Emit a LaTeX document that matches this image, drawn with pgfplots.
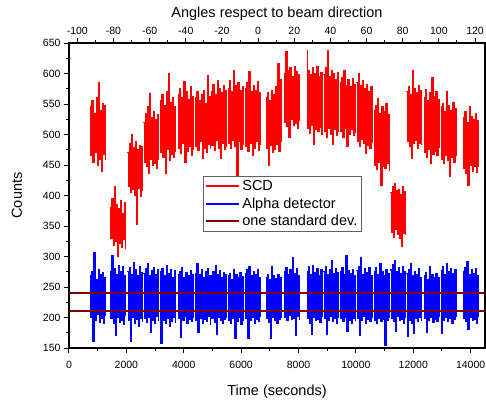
\documentclass[border=0pt]{standalone}
\usepackage{fontspec}
\setmainfont{Liberation Sans}
\usepackage{pgfplots}
\usepackage{pgfplotstable}
\pgfplotsset{compat=1.18}

\definecolor{stdred}{RGB}{128,0,0}
\definecolor{legframe}{RGB}{95,95,95}

% t = time (s), scd = SCD counts, alpha = alpha detector counts
% nan rows separate the measurement runs
\pgfplotstableread{
t scd alpha
730 545 268
766 465 200
802 555 275
838 455 161
874 535 306
910 470 196
946 560 262
982 450 205
1018 585 278
1054 460 192
1090 540 270
1126 440 198
1162 550 273
1198 468 190
1234 548 266
1270 458 202
1350 nan nan
1430 380 275
1466 330 198
1502 395 302
1538 318 190
1574 415 280
1610 325 170
1646 385 270
1682 300 200
1718 378 285
1754 322 192
1790 392 276
1826 315 196
1862 370 283
1898 328 188
1934 388 268
1970 312 203
2000 nan nan
2030 470 276
2066 415 196
2102 485 282
2138 405 161
2174 500 270
2210 410 200
2246 478 290
2282 400 190
2318 488 279
2354 352 197
2390 475 268
2426 412 185
2462 482 283
2498 398 199
2534 480 274
2570 408 193
2580 nan nan
2590 520 272
2626 455 198
2662 535 280
2698 447 192
2734 545 288
2770 436 200
2806 567 268
2842 460 175
2878 528 277
2914 450 196
2950 538 282
2986 452 190
3022 525 270
3058 445 201
3094 532 278
3130 458 194
3150 nan nan
3170 555 275
3206 470 157
3242 565 280
3278 463 195
3314 548 268
3350 436 190
3386 570 285
3422 475 198
3458 600 272
3494 458 186
3530 552 279
3566 468 194
3602 560 266
3638 462 200
3674 545 277
3710 472 191
3750 nan nan
3790 565 270
3826 478 198
3862 575 276
3898 469 168
3934 560 282
3970 485 195
4006 586 265
4042 455 202
4078 570 274
4114 472 190
4150 558 268
4186 480 197
4222 578 277
4258 466 193
4294 562 271
4330 475 200
4360 nan nan
4390 560 272
4426 480 195
4462 570 288
4498 474 175
4534 555 270
4570 488 199
4606 565 278
4642 461 190
4678 572 266
4714 478 197
4750 550 275
4786 470 193
4822 596 280
4858 484 201
4894 562 269
4930 476 188
4940 nan nan
4950 570 268
4986 482 198
5022 582 275
5058 474 192
5094 565 285
5130 490 172
5166 588 270
5202 478 200
5238 575 277
5274 461 195
5310 568 265
5346 485 190
5382 580 273
5418 476 197
5454 572 271
5490 480 199
5510 nan nan
5530 575 268
5566 485 196
5602 588 272
5638 477 190
5674 570 262
5710 490 198
5746 605 278
5782 480 165
5818 580 270
5854 433 193
5890 585 265
5926 488 200
5962 572 274
5998 475 188
6034 578 267
6070 482 195
6100 nan nan
6130 575 272
6166 480 198
6202 585 278
6238 472 166
6274 603 283
6310 485 196
6346 570 268
6382 465 200
6418 580 275
6454 478 190
6490 572 270
6526 488 197
6562 586 279
6598 474 193
6634 568 266
6670 482 201
6750 nan nan
6850 560 265
6886 478 198
6922 568 270
6958 450 192
6994 555 262
7030 482 166
7066 572 283
7102 470 200
7138 565 268
7174 476 195
7210 578 264
7246 484 190
7282 616 271
7318 472 197
7354 590 266
7390 488 199
7440 nan nan
7490 600 275
7526 520 200
7562 636 281
7598 513 195
7634 605 270
7670 496 203
7706 610 278
7742 525 197
7778 595 299
7814 515 199
7850 612 272
7886 518 171
7922 603 280
7958 510 202
7994 598 268
8030 522 196
8150 nan nan
8280 638 276
8316 510 198
8352 605 283
8388 502 190
8424 598 270
8460 515 172
8496 610 285
8532 483 200
8568 600 274
8604 508 195
8640 612 280
8676 505 197
8712 595 268
8748 512 192
8784 602 278
8820 500 201
8840 nan nan
8860 598 276
8896 505 199
8932 610 283
8968 496 172
9004 637 270
9040 510 195
9076 595 279
9112 500 202
9148 605 294
9184 483 193
9220 600 272
9256 508 198
9292 590 280
9328 498 190
9364 602 274
9400 504 200
9420 nan nan
9440 585 275
9476 505 198
9512 594 281
9548 496 193
9584 605 270
9620 510 200
9656 580 302
9692 480 178
9728 590 277
9764 500 196
9800 578 272
9836 508 190
9872 592 279
9908 498 199
9944 582 268
9980 503 195
10000 nan nan
10020 585 277
10056 488 198
10092 600 283
10128 480 171
10164 580 299
10200 492 195
10236 589 270
10272 485 201
10308 575 280
10344 469 190
10380 582 274
10416 482 197
10452 570 281
10488 478 193
10524 578 268
10560 486 200
10590 nan nan
10620 540 275
10656 450 196
10692 548 281
10728 442 190
10764 559 270
10800 455 199
10836 535 288
10872 417 193
10908 545 276
10944 448 197
10980 538 268
11016 445 155
11052 550 279
11088 452 195
11124 532 272
11160 440 200
11180 nan nan
11200 405 278
11236 340 199
11272 414 286
11308 332 193
11344 420 294
11380 345 178
11416 408 275
11452 336 201
11488 410 282
11524 330 195
11560 402 272
11596 317 197
11632 415 284
11668 338 190
11704 406 276
11740 335 200
11750 nan nan
11760 570 272
11796 488 169
11832 578 278
11868 480 196
11904 565 289
11940 461 190
11976 605 268
12012 485 174
12048 575 275
12084 490 198
12120 568 270
12156 478 193
12192 580 280
12228 486 200
12264 572 266
12300 482 195
12330 nan nan
12360 560 268
12396 470 198
12432 573 273
12468 463 176
12504 555 262
12540 475 196
12576 568 283
12612 453 200
12648 593 270
12684 468 192
12720 562 265
12756 472 197
12792 570 272
12828 465 194
12864 558 266
12900 478 201
12925 nan nan
12950 545 277
12986 460 174
13022 551 283
13058 453 196
13094 538 270
13130 466 200
13166 570 289
13202 458 193
13238 548 275
13274 431 198
13310 540 280
13346 462 190
13382 552 272
13418 455 197
13454 542 278
13490 464 201
13600 nan nan
13730 528 275
13766 445 198
13802 537 281
13838 436 193
13874 520 292
13910 417 180
13946 545 270
13982 450 200
14018 530 278
14054 440 195
14090 525 272
14126 448 197
14162 535 280
14198 438 190
14234 522 268
14270 446 201
}\runs

\pgfplotsset{
  common/.style={
    at={(0,0)}, anchor=south west,
    scale only axis, width=416pt, height=305pt,
    tick align=outside,
    major tick length=5pt, minor tick length=3pt,
    tick style={black, line width=1pt},
    axis line style={line width=1.3pt},
    /pgf/number format/assume math mode=true,
    /pgf/number format/1000 sep={},
    tick label style={font=\fontsize{10.5}{12}\selectfont},
    label style={font=\fontsize{14.5}{16}\selectfont},
  },
}

\begin{document}
\begin{tikzpicture}
\useasboundingbox (-69pt,-53pt) rectangle (417pt,348pt);
\begin{axis}[
  common,
  xmin=0, xmax=14500, ymin=150, ymax=650,
  xtick={0,2000,...,14000}, minor x tick num=1,
  ytick={150,200,...,650}, minor y tick num=1,
  xtick pos=bottom, ytick pos=left,
  scaled x ticks=false,
  xticklabel style={yshift=-5pt},
  xlabel={Time (seconds)}, ylabel={Counts},
  xlabel style={at={(rel axis cs:0.5,0)}, yshift=-44pt, anchor=center},
  ylabel style={at={(rel axis cs:-0.125,0.5)}, anchor=center},
  unbounded coords=jump,
  legend style={at={(0.321,0.565)}, anchor=north west, draw=legframe, line width=1pt,
    font=\fontsize{14.5}{16}\selectfont, inner xsep=1.5pt, inner ysep=1.5pt,
    nodes={inner sep=2.8pt}},
  legend cell align=left,
  legend image code/.code={\draw[#1, line width=2pt] (0pt,0pt) -- (33pt,0pt);},
]
\addplot[red, line width=1.2pt, const plot] table[x=t, y=scd] {\runs};
\addlegendentry{SCD}
\addplot[blue, line width=1.2pt, const plot] table[x=t, y=alpha] {\runs};
\addlegendentry{Alpha detector}
\addplot[stdred, line width=2pt] coordinates {(0,240) (14500,240)};
\addlegendentry{one standard dev.}
\addplot[stdred, line width=2pt, forget plot] coordinates {(0,210) (14500,210)};
\end{axis}
\begin{axis}[
  common,
  xmin=-104.6, xmax=125.5, ymin=0, ymax=1,
  axis x line*=top, axis y line=none,
  xtick={-100,-80,...,120}, minor x tick num=1,
  xlabel={Angles respect to beam direction},
  xlabel style={at={(rel axis cs:0.5,1)}, yshift=29pt, anchor=center},
]
\end{axis}
\end{tikzpicture}
\end{document}
